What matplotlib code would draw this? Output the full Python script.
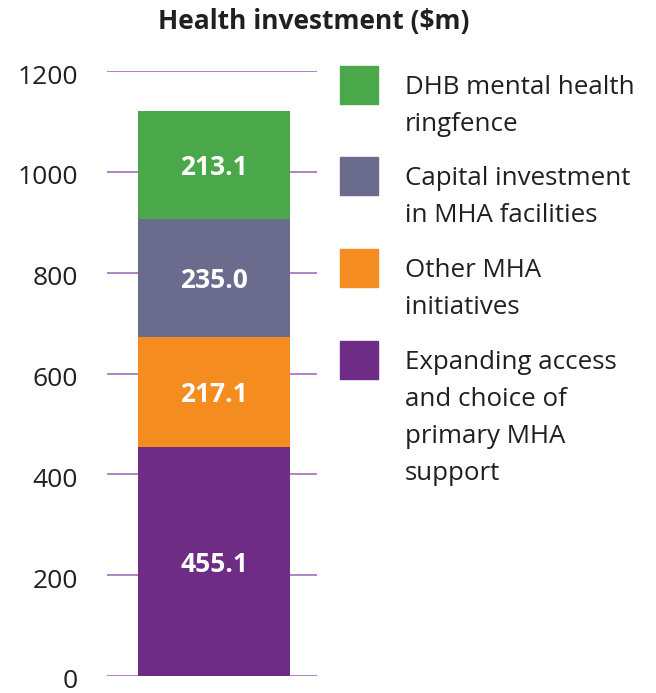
import matplotlib.pyplot as plt
from matplotlib.patches import Rectangle
from matplotlib.transforms import ScaledTranslation

plt.rcParams['font.family'] = ['Open Sans', 'DejaVu Sans']

# data (bottom to top)
categories = ['Expanding access\nand choice of\nprimary MHA\nsupport',
              'Other MHA\ninitiatives',
              'Capital investment\nin MHA facilities',
              'DHB mental health\nringfence']
values = [455.1, 217.1, 235.0, 213.1]
colors = ['#6f2c85', '#f58c1f', '#6b6b8e', '#4aa84a']
yticks = [0, 200, 400, 600, 800, 1000, 1200]

W, H = 656, 693
fig = plt.figure(figsize=(W / 100, H / 100), dpi=100)
ax = fig.add_axes([107 / W, (H - 676) / H, 210 / W, 605 / H])

for y in yticks:
    ax.axhline(y, color='#9b62b3', lw=1.1, zorder=0)

down = ScaledTranslation(0, -3 / 100, fig.dpi_scale_trans)

bottom = 0
for v, c in zip(values, colors):
    ax.bar(0.51, v, width=0.724, bottom=bottom, color=c, zorder=2)
    ax.text(0.51, bottom + v / 2, f'{v:.1f}', ha='center', va='center',
            color='white', fontsize=19, fontweight='bold', zorder=3,
            transform=ax.transData + down)
    bottom += v

ax.set_xlim(0, 1)
ax.set_ylim(0, 1200)
ax.set_yticks(yticks)
ax.set_yticklabels([str(t) for t in yticks], fontsize=19, color='#231f20')
ax.tick_params(axis='y', length=0, pad=21)
# labels sit slightly below their gridlines
for lbl in ax.get_yticklabels():
    lbl.set_transform(lbl.get_transform() + down)
ax.set_xticks([])
for s in ax.spines.values():
    s.set_visible(False)

fig.text(314 / W, 1 - 22 / H, 'Health investment ($m)', ha='center', va='center',
         fontsize=19, fontweight='bold', color='#231f20')

# legend, top entry first
tops = [66, 157, 249, 341]
for top, lab, c in zip(tops, categories[::-1], colors[::-1]):
    fig.add_artist(Rectangle((340 / W, 1 - (top + 38) / H), 38 / W, 38 / H,
                             transform=fig.transFigure, color=c))
    fig.text(405 / W, 1 - (top + 9) / H, lab, ha='left', va='top',
             fontsize=18.6, color='#231f20', linespacing=1.64)

fig.savefig('out.png', dpi=100)
